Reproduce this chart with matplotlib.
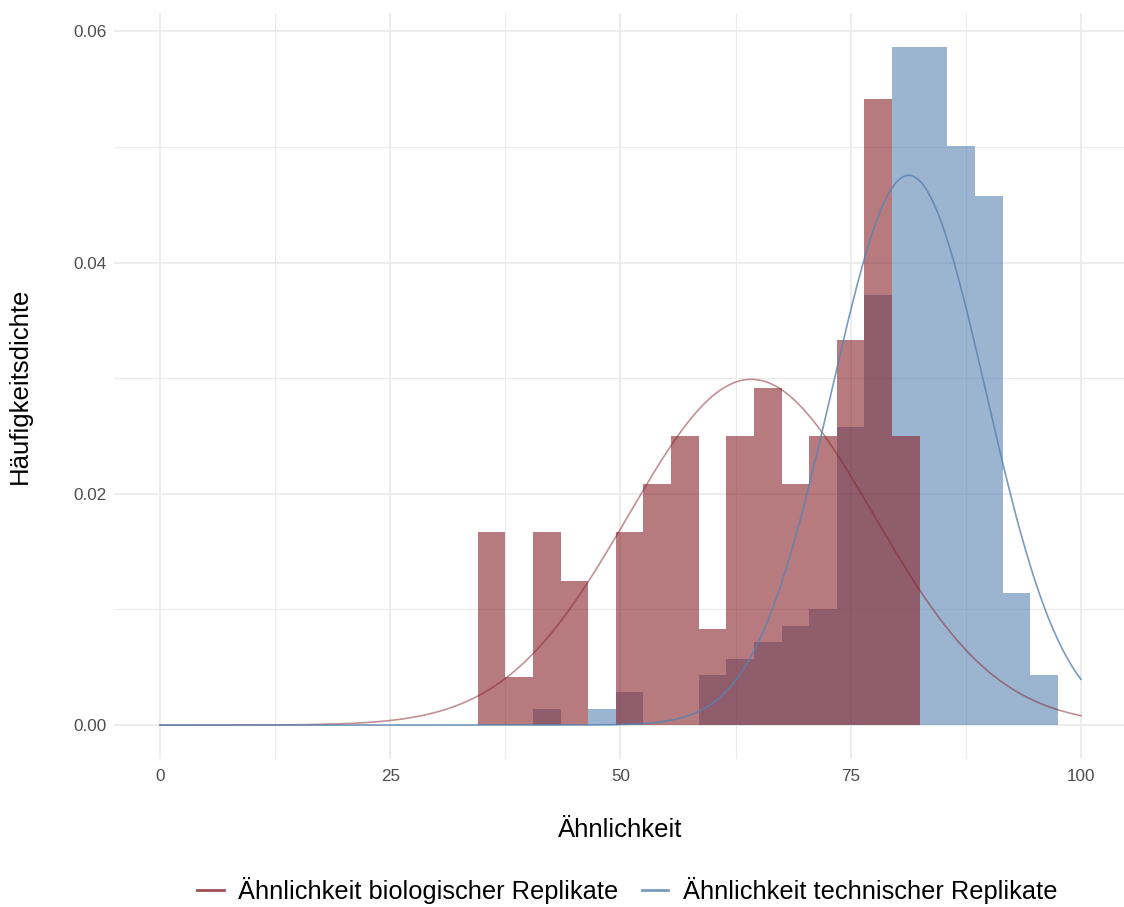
import numpy as np
import matplotlib
matplotlib.use('Agg')
import matplotlib.pyplot as plt
from matplotlib.lines import Line2D

# Histogramm-Daten (Bins der Breite 3, Zentren)
bin_mitten = [36, 39, 42, 45, 48, 51, 54, 57, 60, 63, 66, 69, 72, 75, 78, 81, 84, 87, 90, 93, 96]
bin_breite = 3

# Anzahl pro Bin
bio_counts = [4, 1, 4, 3, 0, 4, 5, 6, 2, 6, 7, 5, 6, 8, 13, 6, 0, 0, 0, 0, 0]
tech_counts = [0, 0, 1, 0, 1, 2, 0, 0, 3, 4, 5, 6, 7, 18, 26, 41, 41, 35, 32, 8, 3]

# Normalverteilung (Mittelwert, Standardabweichung)
bio_mean, bio_sd = 64.2, 13.34
tech_mean, tech_sd = 81.3, 8.39

labels = ['Ähnlichkeit biologischer Replikate', 'Ähnlichkeit technischer Replikate']
rot = '#87232A'
blau = '#5882B2'

plt.rcParams['font.family'] = ['Liberation Sans', 'DejaVu Sans']

fig = plt.figure(figsize=(11.24, 9.07), dpi=100)
ax = fig.add_axes([0.1014, 0.1632, 0.9012, 0.823])

bio_dichte = np.array(bio_counts) / (sum(bio_counts) * bin_breite)
tech_dichte = np.array(tech_counts) / (sum(tech_counts) * bin_breite)

ax.bar(bin_mitten, tech_dichte, width=bin_breite, color=blau, alpha=0.6, linewidth=0, zorder=2)
ax.bar(bin_mitten, bio_dichte, width=bin_breite, color=rot, alpha=0.6, linewidth=0, zorder=3)

xs = np.linspace(0, 100, 400)
def dnorm(x, m, s):
    return np.exp(-0.5 * ((x - m) / s) ** 2) / (s * np.sqrt(2 * np.pi))

ax.plot(xs, dnorm(xs, bio_mean, bio_sd), color=rot, alpha=0.5, lw=1.2, zorder=4)
ax.plot(xs, dnorm(xs, tech_mean, tech_sd), color=blau, alpha=0.8, lw=1.2, zorder=4)

ax.set_xlim(-5, 105)
ax.set_ylim(-0.00293, 0.06163)
ax.set_xticks([0, 25, 50, 75, 100])
ax.set_xticks([12.5, 37.5, 62.5, 87.5], minor=True)
ax.set_yticks([0, 0.02, 0.04, 0.06])
ax.set_yticks([0.01, 0.03, 0.05], minor=True)
ax.set_yticklabels(['0.00', '0.02', '0.04', '0.06'])
ax.grid(True, which='major', color='#EBEBEB', lw=1.3, zorder=0)
ax.grid(True, which='minor', color='#EBEBEB', lw=0.8, zorder=0)
ax.set_axisbelow(True)
for s in ax.spines.values():
    s.set_visible(False)
ax.tick_params(which='both', length=0, labelsize=12.3, labelcolor='#4D4D4D')
ax.tick_params(axis='x', pad=7.5)
ax.tick_params(axis='y', pad=5)

ax.set_xlabel('Ähnlichkeit', fontsize=18.5, labelpad=24)
ax.set_ylabel('Häufigkeitsdichte', fontsize=18.5, labelpad=30)

handles = [Line2D([0], [0], color=rot, alpha=0.8, lw=2),
           Line2D([0], [0], color=blau, alpha=0.8, lw=2)]
fig.legend(handles, labels, loc='center', bbox_to_anchor=(0.558, 0.0187), ncol=2, frameon=False,
           fontsize=18.3, handlelength=1.05, handletextpad=0.58, columnspacing=0.9)

fig.savefig('out.png', dpi=100)
